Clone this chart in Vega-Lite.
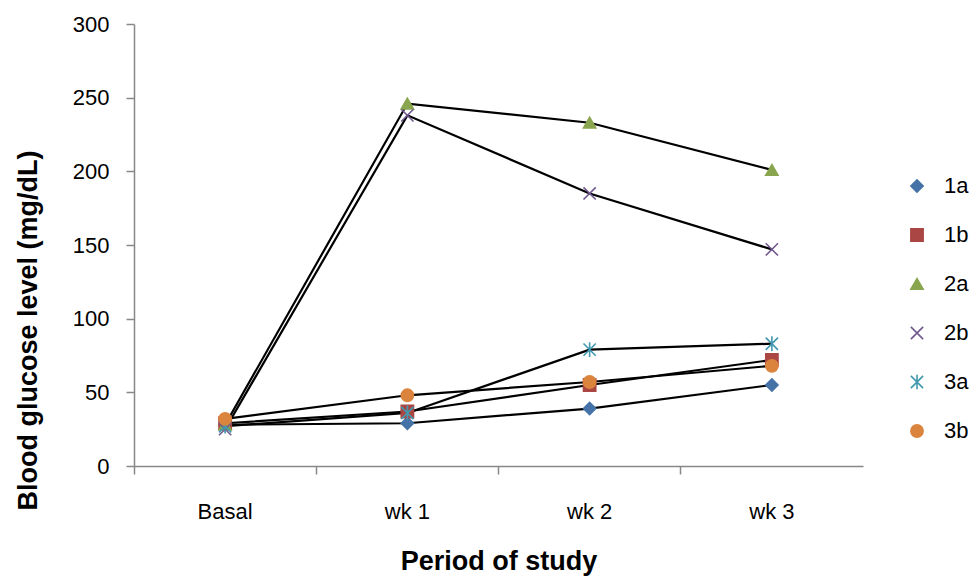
{
  "$schema": "https://vega.github.io/schema/vega-lite/v6.json",
  "autosize": {"type": "none"},
  "padding": {"left": 134, "top": 24, "right": 111, "bottom": 112},
  "width": 729,
  "height": 442,
  "config": {
    "view": {"stroke": null},
    "font": "Liberation Sans",
    "axis": {"grid": false, "domainColor": "#888888", "tickColor": "#888888", "labelColor": "#000000", "titleColor": "#000000", "labelFontSize": 22, "labelFont": "Liberation Sans", "titleFont": "Liberation Sans", "titleFontSize": 27, "titleFontWeight": "bold", "tickWidth": 1.5}
  },
  "data": {
    "values": [
      {"period": "Basal", "group": "1a", "glucose": 28},
      {"period": "wk 1", "group": "1a", "glucose": 29},
      {"period": "wk 2", "group": "1a", "glucose": 39},
      {"period": "wk 3", "group": "1a", "glucose": 55},
      {"period": "Basal", "group": "1b", "glucose": 29},
      {"period": "wk 1", "group": "1b", "glucose": 37},
      {"period": "wk 2", "group": "1b", "glucose": 55},
      {"period": "wk 3", "group": "1b", "glucose": 72},
      {"period": "Basal", "group": "2a", "glucose": 28},
      {"period": "wk 1", "group": "2a", "glucose": 246},
      {"period": "wk 2", "group": "2a", "glucose": 233},
      {"period": "wk 3", "group": "2a", "glucose": 201},
      {"period": "Basal", "group": "2b", "glucose": 25},
      {"period": "wk 1", "group": "2b", "glucose": 238},
      {"period": "wk 2", "group": "2b", "glucose": 185},
      {"period": "wk 3", "group": "2b", "glucose": 147},
      {"period": "Basal", "group": "3a", "glucose": 27},
      {"period": "wk 1", "group": "3a", "glucose": 36},
      {"period": "wk 2", "group": "3a", "glucose": 79},
      {"period": "wk 3", "group": "3a", "glucose": 83},
      {"period": "Basal", "group": "3b", "glucose": 32},
      {"period": "wk 1", "group": "3b", "glucose": 48},
      {"period": "wk 2", "group": "3b", "glucose": 57},
      {"period": "wk 3", "group": "3b", "glucose": 68}
    ]
  },
  "encoding": {
    "x": {
      "field": "period", "type": "nominal", "sort": ["Basal", "wk 1", "wk 2", "wk 3"],
      "scale": {"type": "band", "paddingInner": 0, "paddingOuter": 0},
      "axis": {"title": "Period of study", "labelAngle": 0, "bandPosition": 0, "tickSize": 8, "labelPadding": 27, "titlePadding": 26, "domainWidth": 1.5}
    },
    "y": {
      "field": "glucose", "type": "quantitative",
      "scale": {"domain": [0, 300]},
      "axis": {"title": "Blood glucose level (mg/dL)", "values": [0, 50, 100, 150, 200, 250, 300], "tickSize": 8, "labelPadding": 17, "titlePadding": 30, "titleY": 306, "titleAnchor": null, "titleAlign": "center", "domainWidth": 1.5}
    }
  },
  "layer": [
    {
      "mark": {"type": "line", "color": "#000000", "strokeWidth": 2.2},
      "encoding": {"detail": {"field": "group"}}
    },
    {
      "mark": {"type": "point", "filled": true, "size": 150, "strokeWidth": 1.6, "opacity": 1},
      "encoding": {
        "fill": {
          "field": "group", "type": "nominal",
          "scale": {"domain": ["1a", "1b", "2a", "2b", "3a", "3b"], "range": ["#4572A7", "#AA4643", "#89A54E", "#71588F", "#4198AF", "#DB843D"]},
          "legend": {"title": null, "orient": "none", "legendX": 772, "legendY": 151, "labelFontSize": 22, "labelFont": "Liberation Sans", "labelColor": "#000000", "rowPadding": 27, "symbolSize": 150, "symbolStrokeWidth": 1.6, "labelOffset": 16, "padding": 0}
        },
        "stroke": {
          "field": "group", "type": "nominal",
          "scale": {"domain": ["1a", "1b", "2a", "2b", "3a", "3b"], "range": ["#4572A7", "#AA4643", "#89A54E", "#71588F", "#4198AF", "#DB843D"]}
        },
        "shape": {
          "field": "group", "type": "nominal",
          "scale": {"domain": ["1a", "1b", "2a", "2b", "3a", "3b"], "range": ["diamond", "square", "triangle-up", "M-1,-1L1,1M-1,1L1,-1", "M-1,-1L1,1M-1,1L1,-1M0,-1.2L0,1.2", "circle"]}
        }
      }
    }
  ]
}
